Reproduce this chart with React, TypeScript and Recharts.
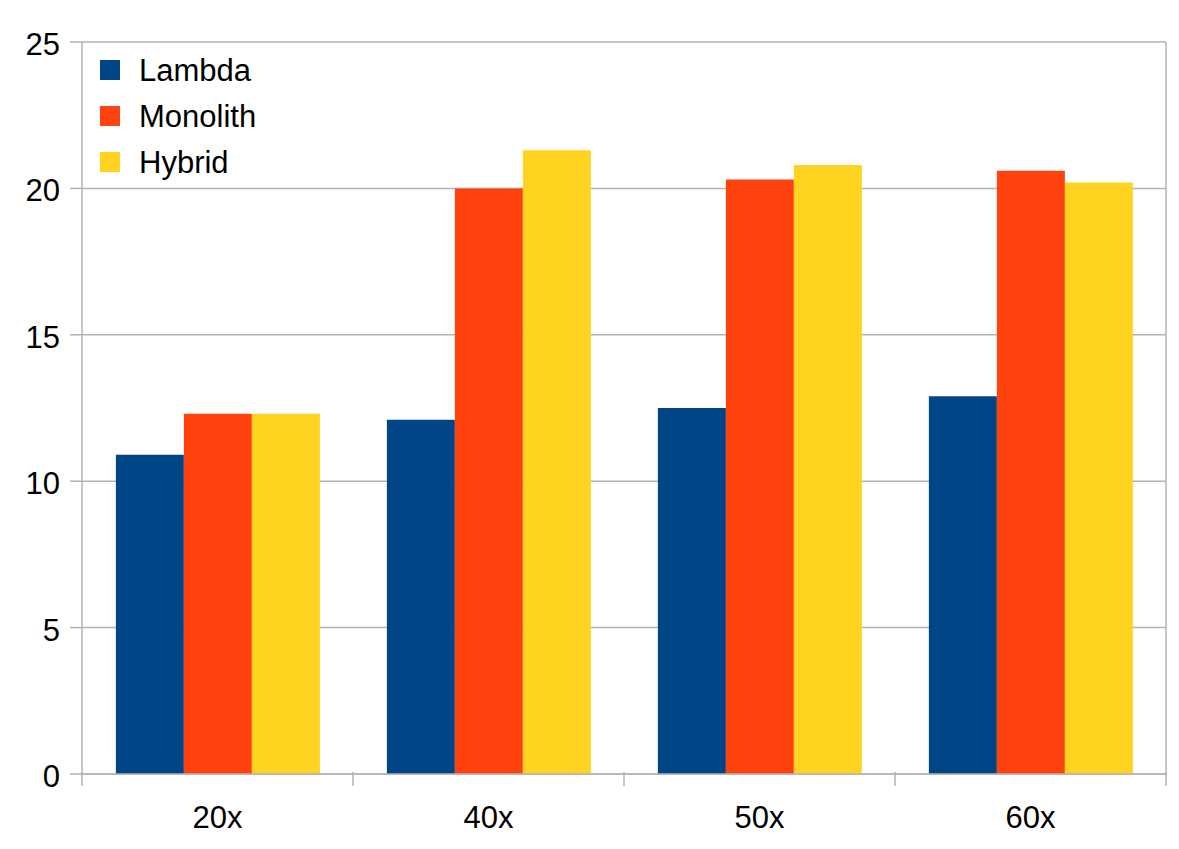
import React from 'react';
import { BarChart, Bar, XAxis, YAxis, CartesianGrid } from 'recharts';

const categories = ['20x', '40x', '50x', '60x'];
const lambda = [10.9, 12.1, 12.5, 12.9];
const monolith = [12.3, 20.0, 20.3, 20.6];
const hybrid = [12.3, 21.3, 20.8, 20.2];
const yTicks = [0, 5, 10, 15, 20, 25];

const series = [
  { key: 'lambda', name: 'Lambda', color: '#004586' },
  { key: 'monolith', name: 'Monolith', color: '#ff420e' },
  { key: 'hybrid', name: 'Hybrid', color: '#ffd320' },
];

const data = categories.map((name, i) => ({
  name,
  lambda: lambda[i],
  monolith: monolith[i],
  hybrid: hybrid[i],
}));

const W = 1179;
const H = 849;
const margin = { top: 42, right: 11, bottom: 15, left: 0 };
const yAxisWidth = 82;
const borderWidth = 2;
const plotWidth = W - margin.left - margin.right - yAxisWidth - borderWidth;
const step = plotWidth / categories.length;
const gridColor = '#b3b3b3';
const font = '"Liberation Sans", Arial, sans-serif';
const fontSize = 31;

// category label centred, tick line at the left boundary (and the right one for the last)
const CategoryTick = (props: any) => {
  const { x, y, payload, index } = props;
  const left = x - step / 2;
  return (
    <g>
      <line x1={left} y1={y - 10} x2={left} y2={y + 4} stroke={gridColor} strokeWidth={1.5} />
      {index === categories.length - 1 && (
        <line x1={x + step / 2} y1={y - 10} x2={x + step / 2} y2={y + 4} stroke={gridColor} strokeWidth={1.5} />
      )}
      <text x={x} y={y + 46} textAnchor="middle" fontSize={fontSize} fill="#000" fontFamily={font}>
        {payload.value}
      </text>
    </g>
  );
};

const LegendBox = () => (
  <div style={{ position: 'absolute', left: 100, top: 47, fontFamily: font, fontSize, color: '#000', lineHeight: 1 }}>
    {series.map((s) => (
      <div key={s.key} style={{ display: 'flex', alignItems: 'center', height: 46 }}>
        <span style={{ width: 20, height: 20, background: s.color, display: 'inline-block', marginRight: 19 }} />
        <span>{s.name}</span>
      </div>
    ))}
  </div>
);

const App: React.FC = () => {
  return (
    <div style={{ position: 'absolute', left: 0, top: 0, width: W, height: H, background: '#fff' }}>
      <BarChart width={W} height={H} data={data} margin={margin} barCategoryGap="12.5%" barGap={0}>
        <CartesianGrid vertical={false} stroke={gridColor} strokeWidth={1.5} />
        <XAxis
          dataKey="name"
          height={60}
          axisLine={{ stroke: gridColor, strokeWidth: 1.5 }}
          tickLine={false}
          tick={<CategoryTick />}
          interval={0}
        />
        <YAxis
          width={yAxisWidth}
          domain={[0, 25]}
          ticks={yTicks}
          tickSize={12}
          tickMargin={10}
          axisLine={{ stroke: gridColor, strokeWidth: 1.5 }}
          tickLine={{ stroke: gridColor, strokeWidth: 1.5 }}
          tick={{ fontSize, fill: '#000', fontFamily: font, dy: 2 }}
        />
        <YAxis
          yAxisId="border"
          orientation="right"
          width={borderWidth}
          domain={[0, 25]}
          tick={false}
          tickLine={false}
          axisLine={{ stroke: gridColor, strokeWidth: 1.5 }}
        />
        {series.map((s) => (
          <Bar key={s.key} dataKey={s.key} name={s.name} fill={s.color} isAnimationActive={false} />
        ))}
      </BarChart>
      <LegendBox />
    </div>
  );
};

export default App;
